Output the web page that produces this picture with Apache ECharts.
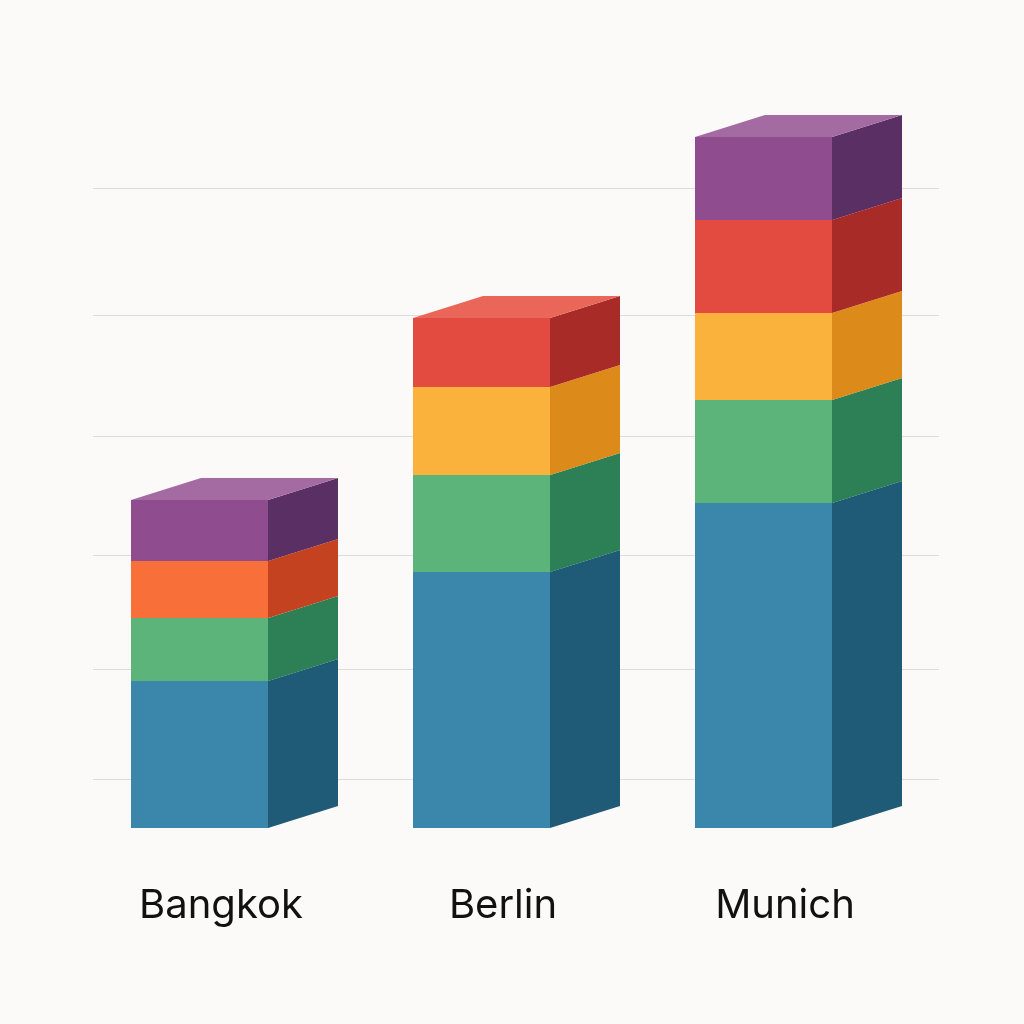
<!DOCTYPE html>
<html><head><meta charset="utf-8">
<script src="https://cdn.jsdelivr.net/npm/echarts@6/dist/echarts.min.js"></script>
<style>html,body{margin:0;background:#fbfaf8}#c{width:1024px;height:1024px}</style>
</head><body><div id="c"></div>
<script>
const categories = ['Bangkok', 'Berlin', 'Munich'];
const blueVals   = [14.7, 25.6, 32.5];
const greenVals  = [6.3, 9.7, 10.3];
const orangeVals = [5.7, 0, 0];
const yellowVals = [0, 8.8, 8.7];
const redVals    = [0, 6.9, 9.3];
const purpleVals = [6.1, 0, 8.3];
const gridValues = [4.9, 15.9, 27.3, 39.2, 51.3, 64];

const layers = [
  {name:'Blue', vals:blueVals, front:'#3b86ab', side:'#1f5a77', top:'#5a9fc2'},
  {name:'Green', vals:greenVals, front:'#5db47a', side:'#2d7f55', top:'#7cc795'},
  {name:'Orange', vals:orangeVals, front:'#f86f3a', side:'#c4421f', top:'#fb8c5d'},
  {name:'Yellow', vals:yellowVals, front:'#fbb23c', side:'#dc8a1a', top:'#fcc563'},
  {name:'Red', vals:redVals, front:'#e34a40', side:'#a82b28', top:'#ea6658'},
  {name:'Purple', vals:purpleVals, front:'#8f4c8f', side:'#5a2f63', top:'#a46ba3'}
];
const cum = categories.map(() => 0);
const FW = 137, DX = 70, DY = 22;
const series = layers.map(L => {
  const data = [];
  L.vals.forEach((v, i) => { if (v > 0) { data.push([i, cum[i], cum[i] + v]); cum[i] += v; } });
  return {
    type: 'custom', name: L.name, data, z: 5,
    renderItem: (params, api) => {
      const c = api.coord([api.value(0), api.value(1)]);
      const t = api.coord([api.value(0), api.value(2)]);
      const x0 = c[0] - 103, x1 = x0 + FW, yb = c[1], yt = t[1];
      return {type:'group', children:[
        {type:'polygon', shape:{points:[[x0,yb],[x1,yb],[x1,yt],[x0,yt]]}, style:{fill:L.front}},
        {type:'polygon', shape:{points:[[x1,yb],[x1+DX,yb-DY],[x1+DX,yt-DY],[x1,yt]]}, style:{fill:L.side}},
        {type:'polygon', shape:{points:[[x0,yt],[x1,yt],[x1+DX,yt-DY],[x0+DX,yt-DY]]}, style:{fill:L.top}}
      ]};
    }
  };
});
series.unshift({
  type:'line', data:[], silent:true, z:1,
  markLine:{symbol:'none', silent:true, z:1, label:{show:false},
    lineStyle:{color:'#dcdcdc', type:'solid', width:1},
    data: gridValues.map(v => ({yAxis:v, x:60, x2:968})).map(d => ({yAxis:d.yAxis}))}
});
const chart = echarts.init(document.getElementById('c'));
chart.setOption({
  backgroundColor:'#fbfaf8',
  animation:false,
  grid:{left:93, right:85, top:28, bottom:196},
  xAxis:{type:'category', data:categories, axisLine:{show:false}, axisTick:{show:false},
    axisLabel:{fontSize:40, color:'#111', margin:58, fontFamily:'Inter', padding:[0,26,0,0]}},
  yAxis:{type:'value', min:0, max:80, show:false, splitLine:{show:false}},
  graphic: gridValues.map(v => ({type:'line', z:-1, silent:true,
    shape:{x1:60, x2:968, y1:828 - v*10, y2:828 - v*10}, style:{stroke:'#dcdcdc', lineWidth:1}})).slice(0,0),
  series
});
</script></body></html>
